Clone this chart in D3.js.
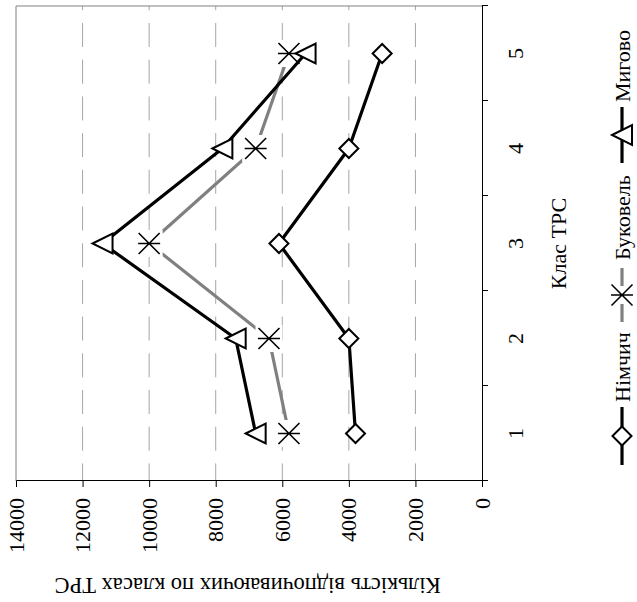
<!DOCTYPE html>
<html>
<head>
<meta charset="utf-8">
<script src="https://cdn.jsdelivr.net/npm/d3@7"></script>
<style>
  body { margin: 0; background: #fff; }
  svg { display: block; }
  svg text { font-family: "Liberation Serif", "Times New Roman", serif; }
</style>
</head>
<body>
<svg id="chart" width="637" height="602"></svg>
<script>
const classes = [1, 2, 3, 4, 5];
const nimchych = [3800, 4000, 6100, 4000, 3000];
const bukovel = [5800, 6400, 10000, 6800, 5800];
const myhovo = [6800, 7400, 11400, 7800, 5300];
const seriesNames = ["Німчич", "Буковель", "Мигово"];
const valueTicks = [0, 2000, 4000, 6000, 8000, 10000, 12000, 14000];
const gridTicks = [2000, 4000, 6000, 8000, 10000, 12000];

const xTitle = "Клас ТРС";
const yTitle = "Кількість відпочиваючих по класах ТРС";

// chart is drawn upright, then turned -90deg as a whole
const W = 602;
const plotL = 121, plotR = 596, plotT = 16, plotB = 482;

const svg = d3.select("#chart");
const g = svg.append("g").attr("transform", `translate(0,${W}) rotate(-90)`);

const x = d3.scaleBand().domain(classes).range([plotL, plotR]);
const xEdge = d3.scaleLinear().domain([0.5, 5.5]).range([plotL, plotR]);
const y = d3.scaleLinear().domain([0, 14000]).range([plotB, plotT]);
const cx = (c) => x(c) + x.bandwidth() / 2;

// gridlines
g.append("g")
  .selectAll("line")
  .data(gridTicks)
  .join("line")
  .attr("x1", plotL)
  .attr("x2", plotR)
  .attr("y1", (d) => y(d))
  .attr("y2", (d) => y(d))
  .attr("stroke", "#a6a6a6")
  .attr("stroke-width", 1)
  .attr("stroke-dasharray", "24,12.7")
  .attr("stroke-dashoffset", 6.4);

// plot frame
g.append("path")
  .attr("d", `M${plotL},${plotT}H${plotR}V${plotB}`)
  .attr("fill", "none")
  .attr("stroke", "#808080")
  .attr("stroke-width", 1);

// value axis
const yAxis = g.append("g")
  .attr("transform", `translate(${plotL},0)`)
  .call(d3.axisLeft(y).tickValues(valueTicks).tickSize(6).tickPadding(11).tickFormat(d3.format("d")))
  .attr("font-family", null)
  .attr("font-size", 22);
yAxis.selectAll("text").attr("fill", "#000");
yAxis.selectAll("line, path").attr("stroke", "#000");

// class axis: ticks at band edges, labels at centres
const xTicks = g.append("g")
  .attr("transform", `translate(0,${plotB})`)
  .call(d3.axisBottom(xEdge).tickValues([0.5, 1.5, 2.5, 3.5, 4.5, 5.5]).tickSize(6).tickFormat(""));
xTicks.select(".domain").remove();
xTicks.selectAll("line").attr("stroke", "#000");

const xAxis = g.append("g")
  .attr("transform", `translate(0,${plotB})`)
  .call(d3.axisBottom(x).tickSize(0).tickSizeOuter(0).tickPadding(25))
  .attr("font-family", null)
  .attr("font-size", 22);
xAxis.selectAll("text").attr("fill", "#000");
xAxis.select(".domain").attr("stroke", "#000");

// titles
g.append("text")
  .attr("x", (plotL + plotR) / 2)
  .attr("y", 566)
  .attr("text-anchor", "middle")
  .attr("font-size", 22)
  .text(xTitle);

g.append("text")
  .attr("transform", `translate(24,${(plotT + plotB) / 2 - 1.5}) rotate(-90)`)
  .attr("text-anchor", "middle")
  .attr("font-size", 22.5)
  .text(yTitle);

// markers
const diamond = (sel) =>
  sel.append("path")
    .attr("d", "M0,-9.5L9.5,0L0,9.5L-9.5,0Z")
    .attr("fill", "#fff")
    .attr("stroke", "#000")
    .attr("stroke-width", 2);

const star = (sel) => {
  sel.append("path")
    .attr("d", "M-10.5,-10.5L10.5,10.5M-10.5,10.5L10.5,-10.5M0,-11L0,11")
    .attr("fill", "none")
    .attr("stroke", "#000")
    .attr("stroke-width", 1.6);
};

const triangle = (sel) =>
  sel.append("path")
    .attr("d", "M0,-10L10,10L-10,10Z")
    .attr("fill", "#fff")
    .attr("stroke", "#000")
    .attr("stroke-width", 2);

const series = [
  { name: seriesNames[0], values: nimchych, color: "#000", marker: diamond, clear: false },
  { name: seriesNames[1], values: bukovel, color: "#808080", marker: star, clear: true },
  { name: seriesNames[2], values: myhovo, color: "#000", marker: triangle, clear: false },
];

const line = d3.line()
  .x((d) => cx(d.c))
  .y((d) => y(d.v));

series.forEach((s) => {
  const pts = classes.map((c, i) => ({ c: c, v: s.values[i] }));
  g.append("path")
    .datum(pts)
    .attr("d", line)
    .attr("fill", "none")
    .attr("stroke", s.color)
    .attr("stroke-width", 3.2)
    .attr("stroke-linejoin", "round");
  const m = g.append("g")
    .selectAll("g")
    .data(pts)
    .join("g")
    .attr("transform", (d) => `translate(${cx(d.c)},${y(d.v)})`);
  if (s.clear) {
    m.append("rect")
      .attr("x", -13.5)
      .attr("y", -13.5)
      .attr("width", 27)
      .attr("height", 27)
      .attr("fill", "#fff");
  }
  s.marker(m);
});

// legend
const legendLineX = [[137, 195], [280, 334], [439, 495]];
const legendTextX = [200, 342, 500];
const legendY = 622;

const lg = g.append("g");
series.forEach((s, i) => {
  const [a, b] = legendLineX[i];
  lg.append("line")
    .attr("x1", a)
    .attr("x2", b)
    .attr("y1", legendY)
    .attr("y2", legendY)
    .attr("stroke", s.color)
    .attr("stroke-width", 3.2);
  const m = lg.append("g").attr("transform", `translate(${(a + b) / 2},${legendY})`);
  if (s.clear) {
    m.append("rect").attr("x", -9).attr("y", -9).attr("width", 18).attr("height", 18).attr("fill", "#fff");
  }
  s.marker(m);
  lg.append("text")
    .attr("x", legendTextX[i])
    .attr("y", legendY + 8)
    .attr("font-size", 22)
    .text(s.name);
});
</script>
</body>
</html>
